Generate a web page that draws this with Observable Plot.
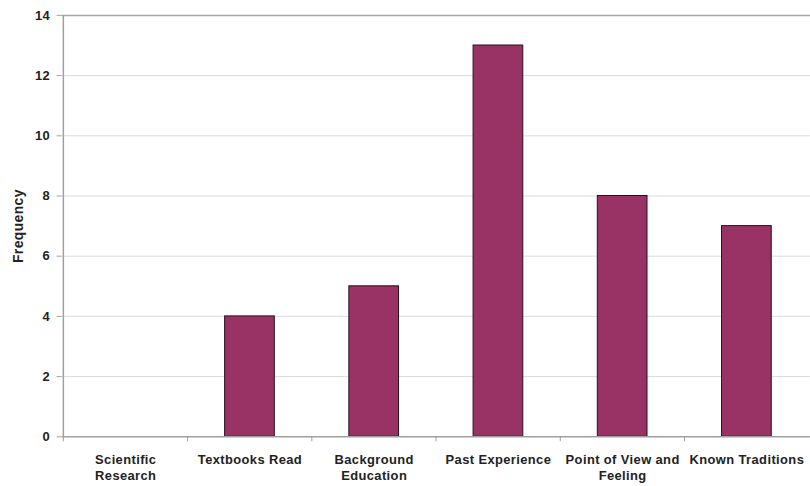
<!DOCTYPE html>
<html>
<head>
<meta charset="utf-8">
<script src="https://cdn.jsdelivr.net/npm/d3@7"></script>
<script src="https://cdn.jsdelivr.net/npm/@observablehq/plot@0.6"></script>
<style>
  html, body { margin: 0; padding: 0; background: #fff; overflow: hidden; }
  #chart svg { display: block; }
  #chart svg text { letter-spacing: 0.4px; }
</style>
</head>
<body>
<div id="chart"></div>
<script>
const categories = ["Scientific Research", "Textbooks Read", "Background Education", "Past Experience", "Point of View and Feeling", "Known Traditions"];
const tickLabels = ["Scientific\nResearch", "Textbooks Read", "Background\nEducation", "Past Experience", "Point of View and\nFeeling", "Known Traditions"];
const frequency = [0, 4, 5, 13, 8, 7];
const yTicks = [0, 2, 4, 6, 8, 10, 12, 14];

const data = categories.map((c, i) => ({category: c, value: frequency[i]}));
const labelOf = new Map(categories.map((c, i) => [c, tickLabels[i]]));

const width = 815, height = 486;
const ml = 62, mr = 0, mt = 15, mb = 47;
const step = (width - ml - mr) / categories.length;

const chart = Plot.plot({
  width, height,
  marginLeft: ml, marginRight: mr, marginTop: mt, marginBottom: mb,
  style: {fontFamily: "'Liberation Sans', Arial, sans-serif", fontSize: "13px", fontWeight: "bold", color: "#222", background: "#fff"},
  x: {domain: categories, paddingInner: 0.6, paddingOuter: 0.3, align: 0.5},
  y: {domain: [0, 14]},
  marks: [
    Plot.ruleY(yTicks.filter(d => d > 0 && d < 14), {stroke: "#dadada", strokeWidth: 1}),
    Plot.ruleY([14], {stroke: "#a8a8a8", strokeWidth: 1.5}),
    Plot.barY(data, {x: "category", y: "value", fill: "#993366", stroke: "#2a0f1c", strokeWidth: 1}),
    Plot.ruleY([0], {stroke: "#a0a0a0", strokeWidth: 1.5}),
    Plot.ruleX(categories.slice(0, 1), {x: d => d, dx: -step / 2, y1: 0, y2: 14, stroke: "#a0a0a0", strokeWidth: 1.5}),
    Plot.axisY({ticks: yTicks, tickSize: 5, tickPadding: 7, stroke: "#a0a0a0", fontWeight: "bold", fontSize: 13,
      label: null}),
    Plot.text(["Frequency"], {frameAnchor: "left", textAnchor: "middle", dx: -44, rotate: -90, fontSize: 14, fontWeight: "bold", fill: "#222"}),
    Plot.axisX({tickSize: 0, tickPadding: 16, tickFormat: d => labelOf.get(d), lineHeight: 1.22, fontWeight: "bold", fontSize: 13, label: null}),
    Plot.ruleX(categories, {x: d => d, dx: -step / 2, y1: 0, y2: 0, stroke: "#a0a0a0", insetBottom: -5})
  ]
});

document.getElementById("chart").appendChild(chart);
</script>
</body>
</html>
